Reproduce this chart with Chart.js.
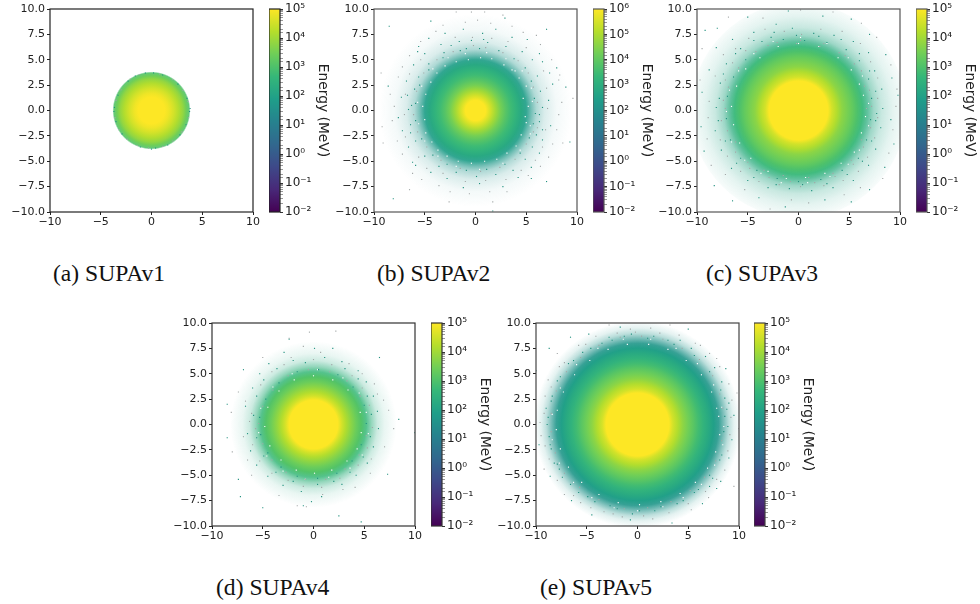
<!DOCTYPE html>
<html>
<head>
<meta charset="utf-8">
<script src="https://cdn.jsdelivr.net/npm/chart.js@4"></script>
<style>
  html, body { margin: 0; padding: 0; background: #fff; width: 980px; height: 604px; overflow: hidden; }
  canvas { position: absolute; }
  .cap { position: absolute; font-family: "Liberation Serif", serif; font-size: 23.6px; color: #111; white-space: nowrap; line-height: 24px; }
</style>
</head>
<body>
<script>
const axisXTicks = [-10, -5, 0, 5, 10];
const axisYTicks = [-10, -7.5, -5, -2.5, 0, 2.5, 5, 7.5, 10];

/* ================= RADIAL PROFILES (radius, MeV, share of bins filled), inner to outer ================= */

const radiusA = [1.3, 1.7, 2.2, 2.7, 3.1, 3.4, 3.7, 3.85];
const energyA = [100000, 70000, 35000, 15000, 7000, 3000, 1200, 800];
const filledA = [1, 1, 1, 1, 1, 1, 0.9, 0];

const radiusB = [1.0, 1.5, 2.0, 2.5, 3.0, 3.5, 4.0, 4.5, 5.0, 5.5, 6.0, 6.8, 8.0, 9.5];
const energyB = [1000000, 280000, 70000, 20000, 7000, 3000, 1500, 700, 300, 200, 150, 120, 100, 100];
const filledB = [1, 1, 1, 1, 1, 1, 1, 1, 0.92, 0.62, 0.36, 0.17, 0.05, 0];

const radiusC = [2.9, 3.3, 3.8, 4.3, 4.8, 5.3, 5.8, 6.3, 6.8, 7.4, 8.2, 9.3, 10.6];
const energyC = [100000, 35000, 15000, 6000, 3500, 2000, 1000, 500, 250, 150, 120, 100, 100];
const filledC = [1, 1, 1, 1, 1, 1, 1, 0.95, 0.75, 0.45, 0.25, 0.12, 0.03];

const radiusD = [2.4, 2.8, 3.2, 3.7, 4.2, 4.7, 5.2, 5.7, 6.3, 7.0, 8.2];
const energyD = [100000, 35000, 15000, 6000, 2500, 1200, 500, 300, 200, 150, 120];
const filledD = [1, 1, 1, 1, 1, 1, 0.85, 0.52, 0.24, 0.1, 0];

const radiusE = [3.1, 3.5, 4.0, 4.5, 5.0, 5.5, 6.0, 6.5, 7.0, 7.5, 8.0, 8.5, 9.0, 9.5, 10.2];
const energyE = [100000, 35000, 15000, 6000, 3000, 1500, 700, 350, 180, 90, 50, 40, 40, 40, 40];
const filledE = [1, 1, 1, 1, 1, 1, 1, 1, 1, 1, 0.9, 0.6, 0.3, 0.12, 0];

/* ================= STRAY BINS outside the dense disc ================= */

const tealA = [[0,-3.8],[-3.65,0.3],[3.8,0.2],[3.75,-0.1],[-3.7,-0.1],[0.2,3.7],[-0.6,3.7],[1.1,3.5],[-2.3,2.9],[2.6,2.6],[-3.3,1.5],[3.4,-1.4],[-2.9,-2.3],[2.8,-2.4],[0.4,-3.7],[-1.1,-3.6],[1.6,-3.4],[-1.6,3.4],[3.5,1.2],[-3.5,-1.1]];
const grayA = [[-2.1,3.1],[-1.2,3.55],[0.8,3.6],[2.1,3.05],[3.1,2],[3.6,0.9],[3.65,-0.7],[3,-2.1],[2.1,-3],[1.1,-3.55],[-0.3,-3.7],[-1.4,-3.45],[-2.4,-2.85],[-3.2,-1.9],[-3.6,-0.7],[-3.5,1],[-3,2.05]];

const tealB = [[-8.5,8.3],[-4.4,8.8],[2.9,9.1],[7,8],[-8.6,2.4],[-8.1,-8.7],[1.7,-9.9],[7,-7],[9.3,-3.1],[8.9,2.3],[8,4.2],[-5.6,6.3],[-4.6,7.1],[-3,7.6],[-1.2,8],[0.7,7.6],[2,8],[3.6,7.2],[5.1,7],[6.3,5.6],[6.6,4.8],[7.3,3.7],[7.6,2.6],[7.2,1],[7.4,-1.5],[6.6,-2.9],[6.3,-4.2],[5.5,-5.6],[4.2,-6.6],[2.7,-7.5],[0.4,-7.2],[-1.2,-7.6],[-2.8,-6.7],[-4.4,-6.1],[-5.9,-5.4],[-6.6,-3.6],[-7.2,-2],[-7.6,-0.7],[-7.3,1.3],[-6.8,2.9],[-6.1,4.5],[-5,5.6],[-3.4,6.5],[-1.6,6.8],[1.2,6.7],[3,6.3],[4.6,5.8],[5.6,5],[6.1,3.4],[6.4,1.9],[6.6,0.3],[6.3,-1.1],[6,-2.4],[5.6,-3.6],[4.9,-4.8],[3.7,-5.9],[2,-6.3],[0.1,-6.5],[-1.9,-6.1],[-3.6,-5.5],[-5,-4.5],[-5.9,-3],[-6.4,-1.4],[-6.3,0.5],[-6,2.1],[-5.6,3.3],[-4.6,4.6],[-3.1,5.7],[-0.9,6.1],[-5.7,5.8],[5.5,-6.7],[-6.2,-5.1],[5.8,1.2],[5.9,-0.3],[5.5,2.9],[4.9,4.2],[3.8,5.1],[2.3,5.9],[0.4,6.1],[-1.5,5.9],[-3.2,5.2],[-4.6,4],[-5.5,2.5],[-5.9,0.7],[-5.9,-1],[-5.3,-2.8],[-4.2,-4.4],[-2.8,-5.3],[-0.9,-5.9],[1.1,-5.8],[2.9,-5.3],[4.4,-4.2],[5.3,-2.7],[5.7,-1.3],[6.3,-0.4],[6.6,-1.9],[-6.6,0.1],[-6.7,1.5],[-6.4,-2.2],[0.8,7],[-0.4,6.9],[-2.4,6.4]];
const grayB = [[-1.9,9.7],[-0.4,9.7],[0.9,9.7],[2.7,9.4],[-9.3,3.7],[-9.1,-3.2],[-9.2,-1.6],[-6.5,-7.8],[-2.6,-9],[1.7,-9],[8.6,-3.2],[9.6,1.2],[8.3,3.5],[-3.2,8.4],[-1,8.7],[0.2,8.9],[1.5,8.6],[3.6,8.3],[4.7,7.7],[6,7.4],[6.4,6.5],[7.5,5],[8.2,3],[8.5,0.8],[8.2,-0.4],[8,-1.9],[7.6,-3.3],[7.2,-4.6],[6.4,-5.5],[5.2,-6.4],[3.1,-8],[1.4,-8],[-0.6,-8.2],[-2.5,-8],[-3.6,-7.4],[-5.3,-6.8],[-6.2,-6.2],[-7.2,-4.3],[-7.7,-3],[-8.2,-1],[-8,0.4],[-8.4,1.6],[-7.6,3.3],[-7.2,4.3],[-6.5,5.4],[-5.4,6.8],[-3.9,7.8],[-2,7.2],[-0.3,7.2],[1.6,7.1],[3.2,6.8],[5,6.2],[6.7,3.9],[7,2.2],[7.1,0.2],[6.9,-1.9],[6.6,-3.6],[5.9,-4.9],[4.5,-5.9],[3,-6.8],[1,-6.9],[-1,-7],[-3.2,-6.2],[-4.8,-5.7],[-5.6,-4.6],[-6.9,-2.6],[-7,-0.4],[-6.9,1.6],[-6.5,3.6],[-5.4,5],[6.1,0.8],[6.1,-1.7],[5.7,2.3],[5.2,3.7],[4.2,4.9],[2.7,5.7],[1,6.2],[-0.2,6.4],[-2.2,5.8],[-3.8,5],[-5.1,3.7],[-5.8,1.9],[-6.1,-0.4],[-5.7,-2.1],[-4.8,-3.6],[-3.4,-4.9],[-1.5,-5.7],[0.5,-6],[2.4,-5.6],[3.9,-4.8],[5,-3.3],[5.7,-2.1]];
const holesB = [[4.7,1.2],[4.9,-0.6],[5.2,0.4],[5.4,-1.5],[5,2.4],[4.3,3.2],[3.6,4],[3.9,3.9],[2.8,4.5],[1.6,5.1],[0.5,5.2],[-0.7,5],[-1.9,4.8],[-3,4.4],[-3.8,3.7],[-4.4,2.8],[-4.9,1.6],[-5.2,0.4],[-5,-0.9],[-4.9,-2.2],[-4.3,-3.1],[-3.7,-3.9],[-2.8,-4.5],[-1.7,-5],[-0.4,-5.2],[0.9,-5],[2.1,-4.8],[3.1,-4.2],[4,-3.5],[4.5,-2.4],[5,-1.2],[5.6,0.9],[5.5,2.2],[4.6,3.9],[3,5.1],[1.1,5.7],[-1,5.6],[-2.7,5.2],[-4.2,4.1],[-5.3,2.4],[-5.7,0.8],[-5.6,-1.3],[-5,-3],[-3.7,-4.5],[-1.9,-5.5],[0.4,-5.8],[2.7,-5.2],[4.4,-3.9],[5.4,-2.3]];

const tealC = [[-9.2,7.9],[-8,8.1],[-5,9.2],[-2.2,8.5],[-1,9.8],[2.4,9.3],[5.2,9],[7,7.5],[8.6,5.5],[9.2,3.2],[9.8,1.5],[9.1,-0.9],[9.4,-3.3],[8.5,-5.6],[7,-7.8],[5.2,-9],[2.6,-8.8],[-1.3,-9.5],[-3.9,-8.6],[-6.5,-8.9],[-8.3,-7.4],[-9.3,-4],[-9.6,-1.6],[-9.5,1.8],[-8.8,4],[-8.1,6.2],[-6.5,7],[-4.4,7.7],[-2.7,7.2],[-0.6,8.1],[1.5,7.6],[3.5,7.4],[5.4,6.8],[6.9,5.7],[7.5,3.9],[8.2,2.1],[8.3,0.2],[8.1,-1.7],[7.6,-3.8],[6.9,-5.4],[5.4,-6.9],[3.4,-7.6],[1.3,-7.9],[-0.9,-7.7],[-3,-7.6],[-5,-6.9],[-6.6,-5.7],[-7.6,-3.9],[-8.2,-2],[-8.1,0.3],[-7.7,2.7],[-7.1,4.6],[-5.7,6.1],[-3.6,6.8],[-1.5,7],[0.6,6.9],[2.8,6.7],[4.7,6],[6,4.9],[6.9,3.1],[7.2,1.2],[7.1,-0.9],[6.7,-2.9],[5.9,-4.7],[4.3,-5.9],[2.2,-6.8],[0,-7],[-2.1,-6.7],[-4.1,-5.9],[-5.7,-4.7],[-6.7,-2.9],[-7.1,-0.8],[-7,1.4],[-6.4,3.3],[-5.2,5],[7.7,-0.3],[7.6,1.9],[7,3.9],[6,5.6],[4.2,7],[2,7.3],[-0.2,7.4],[-2.4,7.7],[-4.4,6.9],[-6.2,5.6],[-7.4,3.6],[-7.8,1.2],[-7.9,-1],[-7.2,-3],[-6.1,-5.2],[-4.4,-6.6],[-2.2,-7.3],[0.4,-7.3],[2.8,-7.2],[4.8,-6.3],[6.3,-5],[7.2,-3],[7.6,-1]];
const grayC = [[-9.5,6.1],[-6.9,9.2],[-3.5,9.1],[0.2,9.9],[3.4,9.7],[6.2,8.6],[7.7,7.2],[9.1,4.5],[9.7,2.1],[9.6,0.4],[9.3,-1.9],[8.9,-4.2],[8.3,-6.7],[6.1,-7.6],[4.5,-8.3],[1,-9.1],[-0.7,-8.8],[-2.8,-9.7],[-5.3,-7.8],[-7.2,-6.3],[-8.6,-5.4],[-9,-2.8],[-8.9,-0.7],[-8.8,0.9],[-9.7,3],[-8.2,3.4],[-7.4,5.5],[-6.2,6.1],[-4.9,7.1],[-3.3,8],[-1.4,7.8],[0.3,7.5],[2.2,8],[4.3,7.8],[6.1,6.6],[7.1,4.8],[7.8,3.2],[7.8,1.2],[7.8,-0.7],[7.5,-2.7],[6.8,-4.6],[5.9,-6],[4.4,-6.9],[2.5,-7.4],[0.2,-7.5],[-1.9,-7.3],[-3.9,-7],[-5.7,-6],[-7,-4.5],[-7.7,-2.9],[-7.6,-1],[-7.4,1],[-7.2,3],[-6.5,4.7],[-5.2,5.9],[-3,6.4],[-0.2,6.6],[2.1,6.3],[4,5.7],[5.5,4.6],[6.5,2.4],[6.7,0.2],[6.2,-2.9],[5.2,-4.9],[3.4,-6.2],[1,-6.6],[-1.5,-6.4],[-3.4,-5.9],[-5,-5.1],[-6.2,-3.1],[7.2,0.4],[7.1,-1.7],[6.4,-3.6],[5.4,-5.3],[3.6,-6.5],[1.6,-7.1],[-0.8,-7],[-2.9,-6.6],[-4.8,-5.7],[-6.2,-4.1],[-7,-2],[-7.2,0.2],[-6.9,2.3],[-5.9,4.2],[-4.2,5.8],[-2.1,6.7],[0.2,6.9],[2.5,6.6],[4.6,5.4],[6.2,3.9],[7,2]];
const holesC = [[6.4,1.5],[6.6,-0.6],[6.2,-2.2],[5.5,-4.1],[4.2,-5.2],[2.6,-6.2],[0.7,-6.6],[-1.2,-6.7],[-3,-6],[-4.7,-4.7],[-5.8,-3.2],[-6.4,-1.4],[-6.6,0.4],[-6.1,2.4],[-5.2,4.1],[-3.8,5.2],[-2,6.3],[0,6.6],[2,6.3],[3.9,5.2],[5.2,4],[6,2.6],[6.9,0.7],[6.9,-1.5],[6,-3.9],[4.9,-5.3],[3.1,-6.5],[0.9,-7.1],[-1.7,-7.1],[-3.7,-6.2],[-5.3,-4.9],[-6.6,-3.1],[-7.1,-0.1],[-6.8,2],[-5.9,3.9],[-4.4,5.6],[-2.5,6.8],[0.2,7.2],[2.8,6.6],[4.9,5.2],[6.3,3.4]];

const tealD = [[-6.9,5.4],[-8.5,2],[-8.5,-1.3],[-7.4,-5.4],[-7.2,-7.1],[-5,-8.2],[2.5,-9],[4.7,-9.6],[6.5,6.6],[7.3,-4.9],[8.4,0.5],[10,-0.8],[-2.4,8.4],[0.1,7.5],[1.9,7.5],[-2.9,7.1],[-4.4,6],[-5.3,5],[-6,3.6],[-6.7,1.8],[-6.5,-0.9],[-6.2,-2.6],[-5.6,-4],[-4.5,-5.1],[-3,-6],[-1.2,-6.6],[0.8,-7.1],[2.8,-5.9],[4.2,-5],[5.3,-3.8],[5.9,-2.2],[6.4,-0.4],[6.3,1.3],[5.9,2.8],[5.2,4.2],[4.4,5.3],[2.8,6.2],[1.1,6.6],[-0.8,6.1],[-2,6.3],[-3.6,5.5],[-4.9,4.4],[-5.6,2.8],[-5.9,0.9],[-5.6,-1.3],[-4.9,-3.1],[-3.7,-4.7],[-2,-5.6],[0.4,-5.9],[2,-5.6],[3.6,-4.7],[4.9,-3.2],[5.6,-1.2],[5.7,1],[5.3,2.8],[4.4,4.5],[3.1,5.5],[-0.2,-7.6],[-1,-8],[5,1.9],[5.2,0.1],[4.7,-2],[3.8,-3.6],[2.3,-4.8],[0.4,-5.3],[-1.6,-5.1],[-3.2,-4.2],[-4.5,-2.8],[-5.2,-1],[-5.3,0.7],[-4.7,2.5],[-3.4,4.1],[-1.6,5.2],[0.5,5.4],[2.4,4.9],[3.9,3.7]];
const grayD = [[-0.4,9.1],[2.2,9.2],[-2.4,8.5],[-1,7.7],[0.7,7.1],[-2.2,6.6],[-5,6.6],[-7.4,3.2],[-8.1,1.2],[-6.7,2.3],[-6.9,-1.2],[-8,-2.7],[-6.5,-3.5],[-6.1,-5],[-3.4,-7],[-1.6,-8],[-0.7,-8.1],[0.9,-6.9],[2.9,-6.4],[4.1,-6.2],[5.7,-3.4],[5.6,-4.8],[7,-2.2],[7.9,-0.4],[7.4,1.4],[6.9,2.4],[6.3,3],[6,4],[4.8,5],[3.5,6],[-4.1,5.2],[-5.2,3.9],[-6.1,1.1],[-6.3,0.3],[-6,-2],[-5.3,-3.6],[-4.1,-4.8],[-2.5,-5.5],[-1,-6.1],[0.8,-6.2],[2.6,-5.3],[4.4,-4],[5.3,-2.3],[5.8,-0.3],[5.5,1.9],[4.8,3.6],[3.8,4.8],[1.8,5.9],[0,6.4],[-2.9,5.9],[-5.7,-0.4],[5.2,-1.1],[4.5,-3],[3.1,-4.4],[1.2,-5.4],[-0.8,-5.4],[-2.7,-4.7],[-4.1,-3.5],[-5,-1.9],[-5.4,0.1],[-5,1.8],[-4,3.4],[-2.5,4.8],[-0.5,5.4],[1.6,5.2],[3.3,4.3],[4.6,2.8]];
const holesD = [[4.6,1.2],[4.7,-0.8],[4.3,-2.4],[3.3,-3.6],[1.8,-4.5],[0.1,-4.8],[-1.7,-4.5],[-3.2,-3.5],[-4.3,-2.1],[-4.8,-0.2],[-4.5,1.7],[-3.4,3.3],[-1.9,4.4],[0,4.8],[1.9,4.4],[3.4,3.4],[5.2,1.2],[5.4,-0.9],[4.8,-3],[3.6,-4.3],[1.5,-5.2],[-0.8,-5.4],[-3,-4.6],[-4.6,-3.1],[-5.4,-0.8],[-5.2,1.6],[-4,3.7],[-2.1,5],[0.4,5.4],[2.9,4.6],[4.5,3.1]];

const tealE = [[-8.7,7.5],[-6.6,8.6],[-4.8,8.9],[-1.7,9.6],[5,9.4],[8.7,5.5],[9.5,0.9],[9,-3.3],[8.2,-5.6],[-10,5.3],[-9.7,-2],[-8.6,-5.1],[-6.5,-7.5],[-4.5,-8.9],[-0.7,-9.4],[3.4,-9.7],[6.4,-7.8],[7.8,-6.3],[-1.3,8.7],[1,8.5],[3,8.3],[5.3,7.5],[6.7,6.7],[7.6,5.6],[8.3,4.2],[8.6,2.6],[8.6,0.8],[8.5,-0.7],[8.1,-3.5],[7.4,-5.3],[6,-6.4],[4.5,-7.5],[2.3,-8.1],[0.2,-8.5],[-2,-8.3],[-4.2,-7.6],[-5.8,-6.7],[-7.4,-5.2],[-8.2,-3.8],[-8.7,-1.2],[-8.8,0.7],[-8.4,2.8],[-7.9,4.3],[-6.8,6],[-5.4,7.1],[-3.5,8],[7.1,-6.1],[-7.7,-4.4],[-8.5,-2.4],[-9,1.6],[9.3,-1.5],[9,2.1],[4.2,8.3],[-2.8,8.6],[8.9,-0.2],[8.8,1.5],[8.2,3.4],[7.1,5.2],[5.6,6.8],[3.6,7.9],[1.6,8.7],[-0.6,8.9],[-2.5,8.3],[-4.6,7.5],[-6.3,6.3],[-7.6,4.7],[-8.5,2.3],[-8.9,0],[-8.6,-2],[-7.9,-3.9],[-6.6,-5.9],[-4.9,-7.1],[-2.7,-8],[-0.5,-8.8],[1.7,-8.5],[3.9,-7.8],[5.6,-6.7],[7.1,-5],[8.3,-3]];
const grayE = [[-2.8,9.8],[-0.7,9.4],[1.3,9.5],[3.2,9.8],[6.2,7.8],[7.8,6.5],[9.8,3.1],[10,-0.4],[9.5,-6.1],[7,-7.2],[5.3,-8.4],[1.5,-9.3],[-1.5,-9.1],[-3.3,-8.6],[-5.6,-7.7],[-7.2,-6.9],[-9.2,-4.4],[-9.5,-1.1],[-9.6,0.2],[-9.1,2.8],[-8.8,4.4],[-7.7,5.7],[-7.9,7],[-5.8,7.8],[-4.1,8.7],[-2,9],[-0.2,9.1],[2.2,9],[4.1,8.8],[5.7,8],[7.1,7],[8.1,5.7],[9,4],[9.3,2.4],[9.2,0.7],[9.1,-1],[8.9,-2.6],[8.6,-4.5],[7.8,-5.4],[6.7,-6.6],[5,-7.8],[3.1,-8.7],[0.6,-9],[-2.4,-8.8],[-4.6,-8.2],[-6.3,-7],[-7.9,-5.5],[-8.7,-3.4],[-9.1,-2.1],[-9.2,1.1],[-8.5,3.7],[-7.2,6.1],[-5.1,7.9],[8.4,1.6],[8.1,3],[7.4,4.8],[6.1,6.4],[4.4,7.5],[2.5,8.4],[0.4,8.7],[-1.7,8.6],[-3.8,7.8],[-5.6,6.6],[-7,5.2],[-8,3.3],[-8.5,1.1],[-8.5,-0.7],[-8.1,-2.8],[-7.2,-4.8],[-5.7,-6.2],[-3.8,-7.4],[-1.3,-8.3],[1,-8.2],[3.3,-7.6],[5.2,-6.5],[6.6,-5.2],[7.7,-3.6],[8.3,-1.6]];
const holesE = [[8,0.8],[8.1,-1],[7.7,-2.7],[6.9,-4.3],[5.7,-5.7],[4.2,-6.8],[2.3,-7.6],[0.2,-7.9],[-1.9,-7.7],[-3.8,-6.9],[-5.5,-5.7],[-6.8,-4.2],[-7.6,-2.4],[-8,-0.5],[-7.9,1.4],[-7.3,3.2],[-6.2,4.9],[-4.7,6.3],[-2.9,7.4],[-1,7.9],[1.1,7.9],[3,7.4],[4.8,6.3],[6.3,4.9],[7.3,3.2],[7.8,1.6],[8.5,-0.2],[8.4,-2],[7.6,-4],[6.3,-5.9],[4.5,-7.2],[2.5,-8.1],[0,-8.5],[-2.3,-8.2],[-4.5,-7.2],[-6.3,-5.7],[-7.7,-3.8],[-8.4,-1.5],[-8.4,1],[-7.6,3.6],[-6,5.9],[-3.9,7.5],[-1.4,8.4],[1.3,8.4],[3.8,7.5],[5.9,6],[7.5,3.9],[8.3,1.7]];

const captions = ["(a) SUPAv1", "(b) SUPAv2", "(c) SUPAv3", "(d) SUPAv4", "(e) SUPAv5"];
const colorbarLabel = "Energy (MeV)";

const VIRIDIS = ["#440154", "#482878", "#3e4989", "#31688e", "#26828e", "#1f9e89", "#35b779", "#6ece58", "#b5de2b", "#fde725"];
const TICK_FONT = { family: "'DejaVu Sans'", size: 11 };

function hexRgb(h) {
  return [1, 3, 5].map(i => parseInt(h.slice(i, i + 2), 16));
}

function viridis(t, alpha = 1) {
  const p = Math.min(Math.max(t, 0), 1) * (VIRIDIS.length - 1);
  const i = Math.min(Math.floor(p), VIRIDIS.length - 2);
  const a = hexRgb(VIRIDIS[i]), b = hexRgb(VIRIDIS[i + 1]);
  const c = a.map((v, k) => Math.round(v + (b[k] - v) * (p - i)));
  return `rgba(${c[0]},${c[1]},${c[2]},${alpha})`;
}

const spines = color => ({
  id: "spines",
  afterDraw(chart) {
    const { ctx, chartArea: a } = chart;
    ctx.save();
    ctx.strokeStyle = color;
    ctx.lineWidth = 1.2;
    ctx.strokeRect(a.left, a.top, a.right - a.left, a.bottom - a.top);
    ctx.restore();
  }
});

function addCanvas(left, top, width, height) {
  const c = document.createElement("canvas");
  c.width = width;
  c.height = height;
  c.style.left = left + "px";
  c.style.top = top + "px";
  document.body.appendChild(c);
  return c;
}

/* ================= HISTOGRAM PANEL ================= */

function renderImage(p) {
  const norm = e => (Math.log10(e) + 2) / (Math.log10(p.cbMax) + 2);
  const toPair = a => a.map(q => ({ x: q[0], y: q[1] }));
  const rMax = p.radius[p.radius.length - 1];
  const pxLen = (c, v) => c.chart.scales.x.getPixelForValue(v) - c.chart.scales.x.getPixelForValue(0);

  const speck = (data, color) => ({
    data: toPair(data), pointBackgroundColor: color, pointStyle: "rect", pointRadius: 0.8, pointBorderWidth: 0
  });

  new Chart(addCanvas(p.left - 50, p.top - 9, 203 + 50 + 12, 203 + 9 + 25), {
    type: "scatter",
    data: {
      datasets: [
        speck(p.teal, "#22917f"),
        speck(p.gray, "#a3a8a8"),
        speck(p.holes, "#ffffff"),
        {
          // the whole radial profile is one disc at the origin with a radial fill
          data: [{ x: 0, y: 0 }],
          pointStyle: "circle",
          pointBorderWidth: 0,
          pointRadius: c => pxLen(c, rMax),
          pointBackgroundColor: c => {
            const { scales, ctx } = c.chart;
            const cx = scales.x.getPixelForValue(0), cy = scales.y.getPixelForValue(0);
            const R = pxLen(c, rMax);
            // options also get resolved once before the scales have pixels
            if (!Number.isFinite(cx) || !Number.isFinite(cy) || !Number.isFinite(R)) return VIRIDIS[9];
            const g = ctx.createRadialGradient(cx, cy, 0, cx, cy, R);
            g.addColorStop(0, viridis(1));
            p.radius.forEach((r, i) => g.addColorStop(r / rMax, viridis(norm(p.energy[i]), p.filled[i])));
            return g;
          }
        }
      ]
    },
    options: {
      responsive: false,
      animation: false,
      events: [],
      layout: { padding: { top: 9, right: 12, left: 0, bottom: 0 } },
      plugins: { legend: { display: false }, tooltip: { enabled: false } },
      scales: {
        x: {
          type: "linear", min: -10, max: 10,
          afterBuildTicks: s => { s.ticks = axisXTicks.map(value => ({ value })); },
          afterFit: s => { s.height = 25; s.paddingLeft = 0; s.paddingRight = 0; },
          grid: { drawOnChartArea: false, tickLength: 3, tickColor: "#222" },
          border: { display: false },
          ticks: { autoSkip: false, maxRotation: 0, padding: 1, color: "#222", font: TICK_FONT,
            callback: v => String(v).replace("-", "\u2212") }
        },
        y: {
          type: "linear", min: -10, max: 10,
          afterBuildTicks: s => { s.ticks = axisYTicks.map(value => ({ value })); },
          afterFit: s => { s.width = 50; s.paddingTop = 0; s.paddingBottom = 0; },
          grid: { drawOnChartArea: false, tickLength: 3, tickColor: "#222" },
          border: { display: false },
          ticks: { autoSkip: false, padding: 2, color: "#222", font: TICK_FONT,
            callback: v => v.toFixed(1).replace("-", "\u2212") }
        }
      }
    },
    plugins: [spines(p.spine)]
  });
}

/* ================= COLORBAR ================= */

const SUPER = { "-": "\u207b", 0: "\u2070", 1: "\u00b9", 2: "\u00b2", 3: "\u00b3", 4: "\u2074", 5: "\u2075", 6: "\u2076" };

function renderColorbar(p) {
  new Chart(addCanvas(p.cbLeft, p.top - 9, 62, 203 + 9 + 10), {
    type: "bar",
    data: {
      labels: [""],
      datasets: [{
        data: [[0.01, p.cbMax]],
        barPercentage: 1,
        categoryPercentage: 1,
        backgroundColor: c => {
          const a = c.chart.chartArea;
          if (!a) return VIRIDIS[5];
          const g = c.chart.ctx.createLinearGradient(0, a.bottom, 0, a.top);
          VIRIDIS.forEach((col, i) => g.addColorStop(i / (VIRIDIS.length - 1), col));
          return g;
        }
      }]
    },
    options: {
      responsive: false,
      animation: false,
      events: [],
      layout: { padding: { top: 9, right: 0, left: 0, bottom: 10 } },
      plugins: { legend: { display: false }, tooltip: { enabled: false } },
      scales: {
        x: { display: false },
        y: {
          type: "logarithmic",
          position: "right",
          min: 0.01,
          max: p.cbMax,
          afterFit: s => { s.width = 51; s.paddingTop = 0; s.paddingBottom = 0; },
          grid: {
            drawOnChartArea: false,
            tickLength: 3,
            tickColor: "#333",
            tickWidth: c => (Number.isInteger(Math.round(Math.log10(c.tick.value) * 1e6) / 1e6) ? 1 : 0.5)
          },
          border: { display: false },
          title: { display: true, text: colorbarLabel, color: "#222", padding: 0, font: { family: "'DejaVu Sans'", size: 13.8 } },
          ticks: {
            autoSkip: false, maxRotation: 0, padding: 2, color: "#222",
            font: { family: "'DejaVu Sans'", size: 12 },
            callback: v => {
              const e = Math.log10(v);
              if (Math.abs(e - Math.round(e)) > 1e-6) return "";
              return "10" + String(Math.round(e)).split("").map(ch => SUPER[ch]).join("");
            }
          }
        }
      }
    },
    plugins: [spines(p.spine)]
  });
}

function addCaption(text, left, top) {
  const d = document.createElement("div");
  d.className = "cap";
  d.textContent = text;
  d.style.left = left + "px";
  d.style.top = top + "px";
  document.body.appendChild(d);
}

const panels = [
  { left: 50, top: 9, cbLeft: 269, cbMax: 1e5, spine: "#222", radius: radiusA, energy: energyA, filled: filledA, teal: tealA, gray: grayA, holes: [], capX: 53, capY: 261, cap: captions[0] },
  { left: 374, top: 9, cbLeft: 593, cbMax: 1e6, spine: "#555", radius: radiusB, energy: energyB, filled: filledB, teal: tealB, gray: grayB, holes: holesB, capX: 377, capY: 261, cap: captions[1] },
  { left: 697, top: 9, cbLeft: 916, cbMax: 1e5, spine: "#555", radius: radiusC, energy: energyC, filled: filledC, teal: tealC, gray: grayC, holes: holesC, capX: 706, capY: 261, cap: captions[2] },
  { left: 212, top: 323, cbLeft: 431, cbMax: 1e5, spine: "#333", radius: radiusD, energy: energyD, filled: filledD, teal: tealD, gray: grayD, holes: holesD, capX: 216, capY: 575, cap: captions[3] },
  { left: 536, top: 323, cbLeft: 754, cbMax: 1e5, spine: "#444", radius: radiusE, energy: energyE, filled: filledE, teal: tealE, gray: grayE, holes: holesE, capX: 540, capY: 575, cap: captions[4] }
];

panels.forEach(p => {
  renderImage(p);
  renderColorbar(p);
  addCaption(p.cap, p.capX, p.capY);
});
</script>
</body>
</html>
